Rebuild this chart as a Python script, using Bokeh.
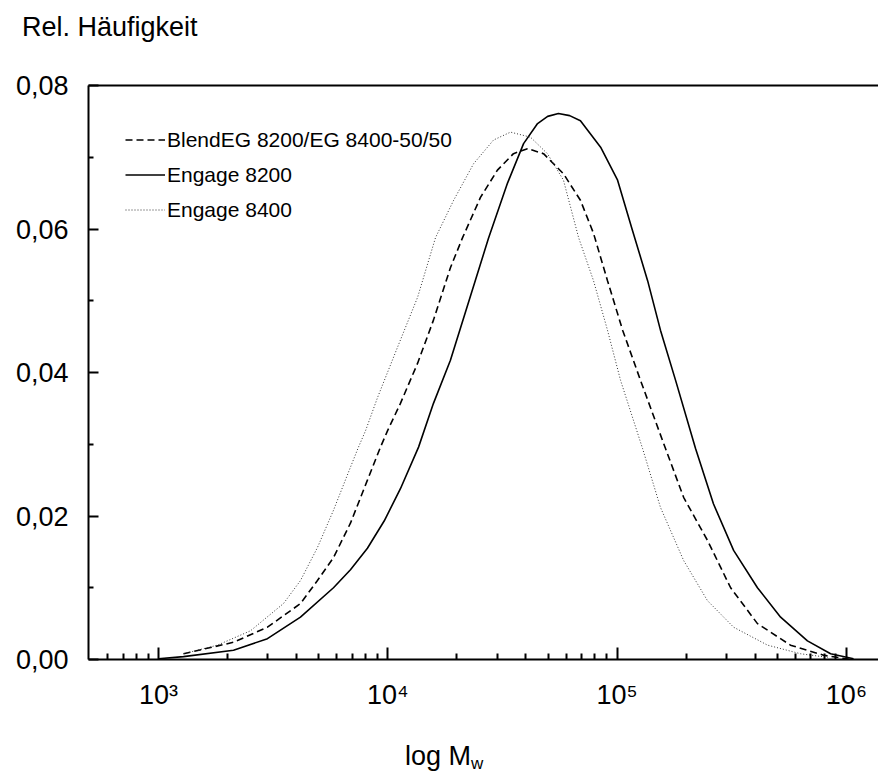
from bokeh.plotting import figure
from bokeh.models import (FixedTicker, CustomJSTickFormatter, Legend, LegendItem,
                          LinearAxis, Range1d, Div)
from bokeh.layouts import column
from bokeh.embed import file_html
from bokeh.resources import INLINE

FONT = "Liberation Sans"

# ---- data (log10 of M_w, relative frequency) ----
blend_logM = [3.109, 3.327, 3.475, 3.619, 3.693, 3.763, 3.837, 3.911, 3.968, 3.999, 4.055, 4.130,
              4.199, 4.273, 4.326, 4.404, 4.478, 4.548, 4.609, 4.679, 4.766, 4.840, 4.897, 4.958,
              5.024, 5.102, 5.211, 5.290, 5.394, 5.495, 5.612, 5.756, 5.900, 6.018]
blend_val = [0.0008, 0.0024, 0.0045, 0.0078, 0.0110, 0.0142, 0.0190, 0.0250, 0.0296, 0.0319, 0.0357, 0.0413,
             0.0473, 0.0546, 0.0588, 0.0644, 0.0682, 0.0705, 0.0712, 0.0705, 0.0677, 0.0640, 0.0594, 0.0528,
             0.0459, 0.0389, 0.0294, 0.0226, 0.0166, 0.0100, 0.0050, 0.0020, 0.0006, 0.0000]

e8200_logM = [3.000, 3.109, 3.327, 3.475, 3.619, 3.763, 3.837, 3.911, 3.984, 4.055, 4.134, 4.199,
              4.273, 4.439, 4.522, 4.592, 4.653, 4.697, 4.744, 4.793, 4.840, 4.928, 5.002, 5.067,
              5.133, 5.189, 5.255, 5.342, 5.420, 5.508, 5.612, 5.713, 5.830, 5.931, 6.031]
e8200_val = [0.0001, 0.0004, 0.0013, 0.0029, 0.0059, 0.0100, 0.0125, 0.0155, 0.0193, 0.0238, 0.0296, 0.0357,
             0.0417, 0.0587, 0.0664, 0.0719, 0.0747, 0.0757, 0.0761, 0.0758, 0.0751, 0.0714, 0.0668, 0.0598,
             0.0528, 0.0459, 0.0389, 0.0294, 0.0217, 0.0152, 0.0100, 0.0059, 0.0026, 0.0008, 0.0001]

e8400_logM = [3.109, 3.257, 3.401, 3.545, 3.619, 3.693, 3.763, 3.837, 3.872, 3.903, 3.955, 4.042,
              4.130, 4.208, 4.287, 4.374, 4.461, 4.535, 4.622, 4.696, 4.766, 4.832, 4.897, 4.958,
              5.015, 5.111, 5.189, 5.290, 5.394, 5.508, 5.656, 5.800, 5.918]
e8400_val = [0.0008, 0.0020, 0.0040, 0.0078, 0.0110, 0.0156, 0.0208, 0.0268, 0.0296, 0.0319, 0.0365, 0.0435,
             0.0505, 0.0588, 0.0640, 0.0691, 0.0724, 0.0735, 0.0728, 0.0705, 0.0668, 0.0588, 0.0528, 0.0459,
             0.0389, 0.0294, 0.0212, 0.0138, 0.0082, 0.0045, 0.0020, 0.0008, 0.0003]

series_names = ["BlendEG 8200/EG 8400-50/50", "Engage 8200", "Engage 8400"]

x_major = [1e3, 1e4, 1e5, 1e6]
x_labels = ["10³", "10⁴", "10⁵", "10⁶"]
x_minor = [600, 700, 800, 900] + [m * 10 ** e for e in (3, 4, 5) for m in range(2, 10)]
y_major = [0.0, 0.02, 0.04, 0.06, 0.08]
y_minor = [0.01, 0.03, 0.05, 0.07]

TOP_H = 44
BOTTOM_H = 54

# ---- y-axis title (above the plot) ----
ytitle = Div(text=('<div style="padding-left:22px; padding-top:12px; font-family:\'Liberation Sans\';'
                   ' font-size:27px; line-height:30px; color:black; white-space:nowrap">'
                   'Rel. Häufigkeit</div>'),
             width=878, height=TOP_H, margin=0)

# ---- figure ----
p = figure(width=878, height=720 - TOP_H, x_axis_type="log", output_backend="svg",
           toolbar_location=None, x_range=Range1d(495, 1.38e6), y_range=Range1d(0, 0.08),
           min_border_left=88, min_border_right=0, min_border_top=85 - TOP_H, min_border_bottom=61,
           margin=0)
p.outline_line_color = None
p.grid.visible = False
p.background_fill_color = "white"

r_blend = p.line([10 ** v for v in blend_logM], blend_val, line_color="black", line_width=1.6,
                 line_dash="7 4")
r_8200 = p.line([10 ** v for v in e8200_logM], e8200_val, line_color="black", line_width=1.6)
r_8400 = p.line([10 ** v for v in e8400_logM], e8400_val, line_color="#333333", line_width=1.0,
                line_dash="1 2")

# axes
lab_js = "{" + ",".join(f"{int(v)}:'{t}'" for v, t in zip(x_major, x_labels)) + "}"
xa = p.xaxis[0]
xa.ticker = FixedTicker(ticks=x_major, minor_ticks=x_minor)
xa.formatter = CustomJSTickFormatter(code=f"const m = {lab_js}; return m[Math.round(tick)] || '';")
xa.axis_line_width = 2
xa.major_tick_in = 12
xa.major_tick_out = 0
xa.minor_tick_in = 6
xa.minor_tick_out = 0
xa.major_tick_line_width = 2
xa.minor_tick_line_width = 2
xa.major_label_text_font = FONT
xa.major_label_text_font_size = "27px"
xa.major_label_text_color = "black"
xa.major_label_standoff = 20

ya = p.yaxis[0]
ya.ticker = FixedTicker(ticks=y_major, minor_ticks=y_minor)
ya.formatter = CustomJSTickFormatter(code="return tick.toFixed(2).replace('.', ',')")
ya.axis_line_width = 2
ya.major_tick_in = 10
ya.major_tick_out = 0
ya.minor_tick_in = 5
ya.minor_tick_out = 0
ya.major_tick_line_width = 2
ya.minor_tick_line_width = 2
ya.major_label_text_font = FONT
ya.major_label_text_font_size = "27px"
ya.major_label_text_color = "black"
ya.major_label_standoff = 20

top = LinearAxis(ticker=FixedTicker(ticks=[]), axis_line_width=2,
                 major_tick_line_color=None, minor_tick_line_color=None,
                 major_label_text_font_size="0px")
p.add_layout(top, "above")

legend = Legend(items=[LegendItem(label=series_names[0], renderers=[r_blend]),
                       LegendItem(label=series_names[1], renderers=[r_8200]),
                       LegendItem(label=series_names[2], renderers=[r_8400])],
                location="top_left", margin=37, padding=0, spacing=0,
                glyph_width=40, glyph_height=35, label_height=35, label_standoff=2,
                label_text_font=FONT, label_text_font_size="21px", label_text_color="black",
                border_line_color=None, background_fill_alpha=0)
p.add_layout(legend)

# ---- x-axis title (below the plot) ----
xlabel = Div(text=('<div style="padding-left:405px; padding-top:21px; font-family:\'Liberation Sans\';'
                   ' font-size:27px; line-height:30px; color:black; white-space:nowrap">'
                   'log M<span style="font-size:17px; position:relative; top:4px">w</span></div>'),
             width=878, height=BOTTOM_H, margin=0)

open("out.html", "w").write(file_html(column(ytitle, p, xlabel), INLINE))
